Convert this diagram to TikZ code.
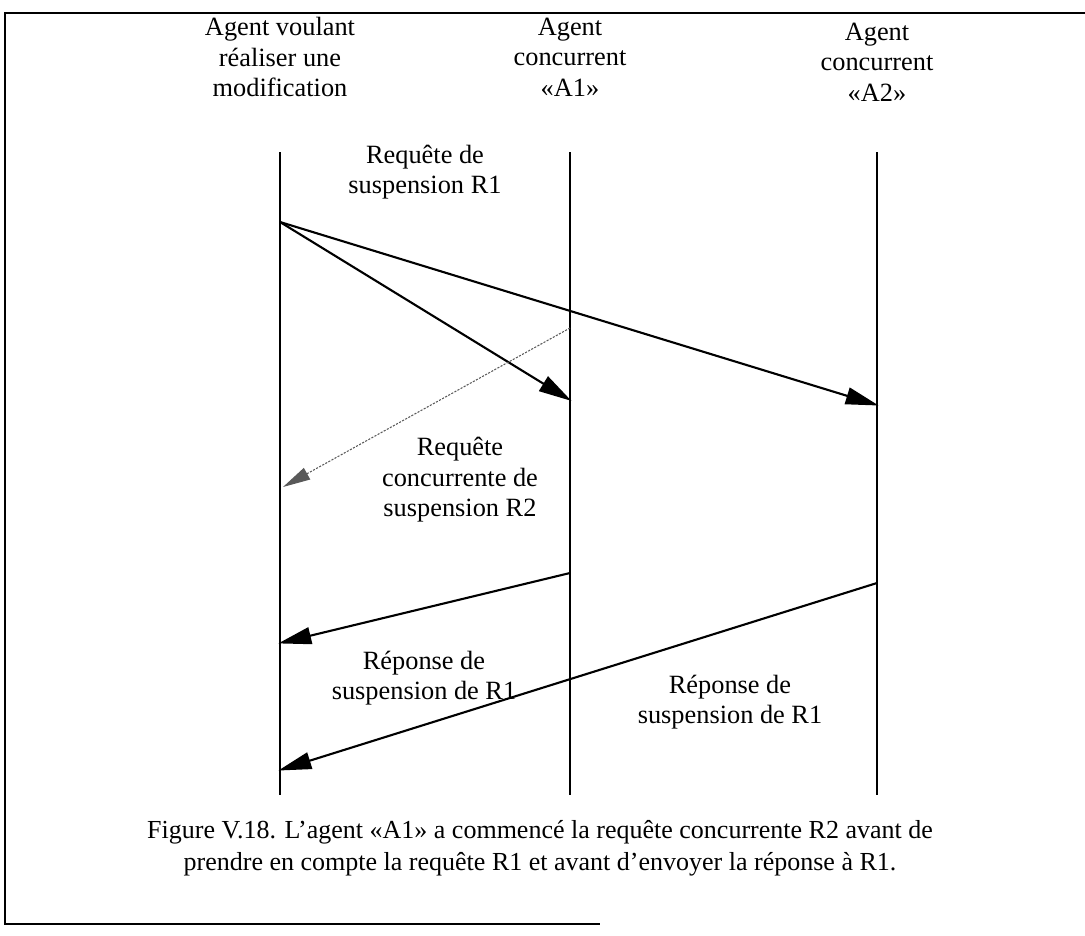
\documentclass[tikz,border=0pt]{standalone}
\usepackage{fontspec}
\setmainfont{Liberation Serif}
\usetikzlibrary{arrows.meta}

\begin{document}
\begin{tikzpicture}[x=0.02cm, y=-0.02cm,
	every node/.style={font=\fontsize{15}{17.4}\selectfont, align=center, inner sep=0pt},
	lifeline/.style={line width=1.3pt},
	msg/.style={line width=1.2pt, -{Triangle[length=6.6mm, width=3.4mm]}, shorten >=-1pt},
	conc/.style={line width=0.6pt, gray!70!black, dash pattern=on 1.2pt off 0.8pt, -{Triangle[length=5.5mm, width=2.6mm]}}]
	\useasboundingbox (0,0) rectangle (1085,936);
	% cadre
	\draw[line width=1.3pt] (1090,13) -- (5,13) -- (5,924) -- (600,924);

	% agents
	\node (hMod) at (280,57) {Agent voulant\\réaliser une\\modification};
	\node (hA1) at (570,57) {Agent\\concurrent\\«A1»};
	\node (hA2) at (877,62) {Agent\\concurrent\\«A2»};

	\foreach \n/\x in {mod/280, a1/570, a2/877} {
		\coordinate (\n Top) at (\x,152);
		\coordinate (\n Bot) at (\x,795);
		\draw[lifeline] (\n Top) -- (\n Bot);
	}

	% messages
	\coordinate (sR1) at (280,222);
	\coordinate (rA1) at (570,400);
	\coordinate (rA2) at (877,405);
	\coordinate (sR2) at (570,328);
	\coordinate (rR2) at (283,487);
	\coordinate (sP1) at (570,573);
	\coordinate (rP1) at (280,643);
	\coordinate (sP2) at (877,583);
	\coordinate (rP2) at (280,770);

	\draw[msg] (sR1) -- (rA1);
	\draw[msg] (sR1) -- (rA2);
	\draw[conc] (sR2) -- (rR2);
	\draw[msg] (sP1) -- (rP1);
	\draw[msg] (sP2) -- (rP2);

	% libelles
	\node (lR1) at (425,172) {Requête de\\suspension R1};
	\node (lR2) at (460,480) {Requête\\concurrente de\\suspension R2};
	\node (lP1) at (424,678) {Réponse de\\suspension de R1};
	\node (lP2) at (730,702) {Réponse de\\suspension de R1};

	% legende
	\node[font=\fontsize{14.8}{18}\selectfont] (cap) at (540,848) {Figure V.18. L’agent «A1» a commencé la requête concurrente R2 avant de\\prendre en compte la requête R1 et avant d’envoyer la réponse à R1.};
\end{tikzpicture}
\end{document}
